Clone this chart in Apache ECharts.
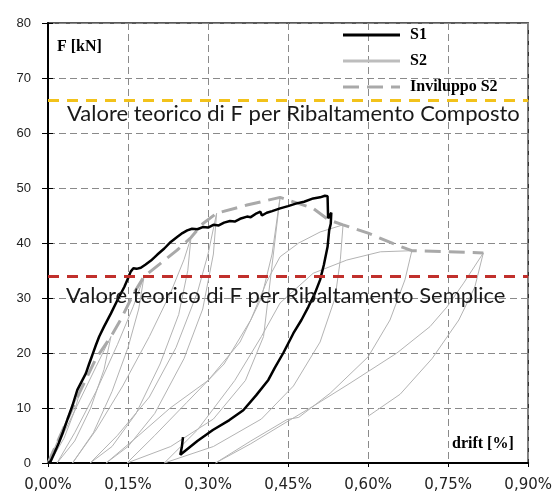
<!DOCTYPE html>
<html>
<head>
<meta charset="utf-8">
<script src="https://cdn.jsdelivr.net/npm/echarts@6/dist/echarts.min.js"></script>
<style>
  html, body { margin: 0; padding: 0; background: #fff; }
  #chart { width: 555px; height: 494px; }
</style>
</head>
<body>
<div id="chart"></div>
<script>
// Axis ticks
const driftTicks = [0, 0.15, 0.30, 0.45, 0.60, 0.75, 0.90];
const forceTicks = [0, 10, 20, 30, 40, 50, 60, 70, 80];

// Theoretical overturning forces [kN]
const fComposto = 66;
const fSemplice = 34;

// Legend entries
const legendNames = ['S1', 'S2', 'Inviluppo S2'];

// S1: monotonic push and unloading (drift %, force kN)
const s1Drift = [0.000, 0.005, 0.012, 0.020, 0.028, 0.036, 0.046, 0.055, 0.063, 0.071, 0.077, 0.083, 0.090, 0.096, 0.105, 0.118, 0.130, 0.143, 0.150, 0.155, 0.160, 0.166, 0.174, 0.183, 0.193, 0.205, 0.218, 0.230, 0.242, 0.252, 0.261, 0.270, 0.280, 0.290, 0.300, 0.310, 0.320, 0.330, 0.341, 0.350, 0.360, 0.373, 0.380, 0.391, 0.398, 0.401, 0.410, 0.420, 0.435, 0.450, 0.466, 0.480, 0.497, 0.510, 0.519, 0.524, 0.525, 0.531, 0.530, 0.527, 0.524, 0.517, 0.510, 0.500, 0.488, 0.475, 0.460, 0.441, 0.425, 0.413, 0.390, 0.366, 0.340, 0.309, 0.280, 0.248, 0.251, 0.253];
const s1Force = [0.0, 0.3, 1.8, 3.6, 5.6, 7.8, 10.5, 13.3, 14.8, 16.3, 18.0, 19.6, 21.5, 23.0, 24.8, 27.2, 29.6, 32.0, 33.6, 34.8, 35.4, 35.3, 35.5, 36.1, 36.8, 37.9, 39.0, 40.2, 41.1, 41.8, 42.3, 42.6, 42.5, 42.9, 42.8, 43.3, 43.2, 43.7, 44.0, 43.9, 44.4, 44.8, 44.7, 45.4, 45.7, 45.0, 45.5, 45.8, 46.3, 46.7, 47.2, 47.5, 48.1, 48.3, 48.6, 48.5, 44.5, 45.5, 43.5, 42.3, 39.3, 36.0, 33.3, 30.8, 28.4, 26.0, 23.6, 20.0, 17.3, 15.1, 12.3, 9.6, 7.8, 6.0, 4.0, 1.5, 3.0, 4.7];

// S2: cyclic test, loading/unloading loops in sequence
const s2Drift = [
  0.000, 0.020, 0.040, 0.060, 0.050, 0.030, 0.003,
  0.030, 0.060, 0.090, 0.118, 0.105, 0.080, 0.050, 0.017,
  0.050, 0.090, 0.130, 0.160, 0.180, 0.170, 0.150, 0.120, 0.085, 0.046,
  0.090, 0.140, 0.190, 0.230, 0.255, 0.268, 0.262, 0.245, 0.210, 0.165, 0.120, 0.079,
  0.130, 0.190, 0.240, 0.280, 0.300, 0.316, 0.310, 0.290, 0.255, 0.200, 0.150, 0.109,
  0.170, 0.229, 0.300, 0.360, 0.400, 0.420, 0.435, 0.420, 0.404, 0.370, 0.310, 0.230, 0.148,
  0.200, 0.260, 0.330, 0.380, 0.410, 0.435, 0.470, 0.510, 0.553, 0.548, 0.538, 0.510, 0.460, 0.400, 0.310, 0.218,
  0.280, 0.350, 0.400, 0.435, 0.497, 0.560, 0.623, 0.682, 0.669, 0.641, 0.600, 0.529, 0.470, 0.448, 0.380, 0.314,
  0.380, 0.448, 0.500, 0.566, 0.654, 0.716, 0.748, 0.779, 0.816, 0.800, 0.770, 0.720, 0.660, 0.600
];
const s2Force = [
  0.0, 4.5, 9.0, 13.0, 9.5, 4.5, 0.0,
  5.5, 11.5, 17.5, 23.0, 17.0, 10.0, 4.0, 0.0,
  5.5, 13.0, 21.5, 28.5, 33.9, 28.0, 21.0, 13.0, 5.5, 0.0,
  6.0, 14.0, 23.0, 31.0, 37.0, 41.0, 35.0, 27.0, 18.0, 9.0, 3.0, 0.0,
  5.0, 12.0, 21.0, 31.0, 38.0, 45.4, 38.0, 28.0, 19.0, 9.0, 3.0, 0.0,
  5.0, 10.0, 15.0, 22.0, 30.0, 38.0, 48.3, 36.0, 23.0, 15.0, 8.0, 3.0, 0.0,
  5.0, 11.0, 18.0, 26.0, 33.0, 37.5, 40.0, 42.0, 43.3, 37.0, 30.0, 22.0, 14.0, 8.0, 3.0, 0.0,
  6.0, 15.0, 23.0, 29.1, 34.5, 36.9, 38.4, 38.6, 33.3, 26.0, 19.3, 12.7, 8.3, 7.9, 4.0, 0.0,
  3.5, 7.5, 10.5, 14.5, 20.0, 24.8, 28.4, 32.7, 38.2, 32.0, 26.0, 19.0, 12.5, 8.5
];

// Envelope of S2 peaks
const envDrift = [0.000, 0.030, 0.060, 0.090, 0.118, 0.136, 0.161, 0.180, 0.211, 0.242, 0.268, 0.290, 0.316, 0.373, 0.435, 0.497, 0.526, 0.553, 0.600, 0.654, 0.682, 0.816];
const envForce = [0.0, 6.5, 13.0, 19.0, 23.0, 26.0, 30.9, 33.9, 36.3, 38.7, 41.0, 43.5, 45.4, 46.9, 48.3, 46.3, 44.2, 43.3, 41.8, 39.6, 38.6, 38.2];

const pairs = (xs, ys) => xs.map((x, i) => [x, ys[i]]);

// Series line styles (also used by the legend keys)
const styleS1 = { stroke: '#000', lineWidth: 2.5 };
const styleS2 = { stroke: '#b3b3b3', lineWidth: 1 };
const styleEnv = { stroke: '#a9a9a9', lineWidth: 3, lineDash: [16, 8] };
const legendKeyStyles = [
  { stroke: '#000', lineWidth: 3 },
  { stroke: '#bdbdbd', lineWidth: 3 },
  { stroke: '#a9a9a9', lineWidth: 3, lineDash: [16, 8] }
];

const chart = echarts.init(document.getElementById('chart'), null, { renderer: 'canvas' });

const gridLine = { show: true, lineStyle: { color: '#8a8a8a', width: 1, type: [7, 4] } };
const serifBold = { fontFamily: 'Liberation Serif', fontWeight: 'bold', fontSize: 16, fill: '#000' };
const noteFont = { fontFamily: 'Lato', fontSize: 22, color: '#1a1a1a' };

// Legend drawn as short line keys with labels, top right inside the plot
const legendGraphics = [];
legendNames.forEach((name, i) => {
  const y = [35, 61, 87][i];
  legendGraphics.push({
    type: 'line', z: 10,
    shape: { x1: 343, y1: y, x2: 400, y2: y },
    style: legendKeyStyles[i]
  });
  legendGraphics.push({
    type: 'text', z: 10, x: 410, y: y,
    style: Object.assign({ text: name, verticalAlign: 'middle' }, serifBold)
  });
});

chart.setOption({
  animation: false,
  backgroundColor: '#fff',
  grid: { left: 48, right: 26, top: 23, bottom: 31, show: true, borderColor: '#222', borderWidth: 1.5 },
  xAxis: {
    type: 'value', min: driftTicks[0], max: driftTicks[driftTicks.length - 1], interval: 0.15,
    axisLine: { show: true, onZero: false, lineStyle: { color: '#000', width: 2 } },
    axisTick: { show: true, length: 4, lineStyle: { color: '#000' } },
    axisLabel: {
      margin: 15, fontFamily: 'DejaVu Sans', fontSize: 15, color: '#222',
      formatter: v => v.toFixed(2).replace('.', ',') + '%'
    },
    splitLine: gridLine
  },
  yAxis: [{
    type: 'value', min: forceTicks[0], max: forceTicks[forceTicks.length - 1], interval: 10,
    axisLine: { show: true, lineStyle: { color: '#000', width: 2 } },
    axisTick: { show: true, length: 6, lineStyle: { color: '#000' } },
    axisLabel: { margin: 17, fontFamily: 'Liberation Sans', fontSize: 13, color: '#222' },
    splitLine: gridLine
  }, {
    type: 'value', min: forceTicks[0], max: forceTicks[forceTicks.length - 1], interval: 10,
    position: 'left',
    axisLine: { show: false },
    axisTick: { show: true, inside: true, length: 5, lineStyle: { color: '#000' } },
    axisLabel: { show: false },
    splitLine: { show: false }
  }],
  graphic: legendGraphics.concat([
    { type: 'text', left: 57, top: 39, style: Object.assign({ text: 'F [kN]' }, serifBold) },
    { type: 'text', left: 452, top: 436, style: Object.assign({ text: 'drift [%]' }, serifBold) }
  ]),
  series: [
    {
      name: 'S2', type: 'line', data: pairs(s2Drift, s2Force), showSymbol: false, symbol: 'none',
      lineStyle: { color: styleS2.stroke, width: styleS2.lineWidth }, z: 2
    },
    {
      name: 'Inviluppo S2', type: 'line', data: pairs(envDrift, envForce), showSymbol: false, symbol: 'none',
      lineStyle: { color: styleEnv.stroke, width: styleEnv.lineWidth, type: styleEnv.lineDash }, z: 3
    },
    {
      name: 'S1', type: 'line', data: pairs(s1Drift, s1Force), showSymbol: false, symbol: 'none',
      lineStyle: { color: styleS1.stroke, width: styleS1.lineWidth }, z: 4,
      markLine: {
        silent: true, symbol: 'none',
        data: [
          {
            yAxis: fComposto,
            lineStyle: { color: '#f2c21b', width: 3, type: [11, 8] },
            label: { show: true, position: 'insideStartBottom', distance: [19, 3], formatter: 'Valore teorico di F per Ribaltamento Composto', ...noteFont }
          },
          {
            yAxis: fSemplice,
            lineStyle: { color: '#c1302c', width: 3, type: [11, 8] },
            label: { show: true, position: 'insideStartBottom', distance: [18, 9], formatter: 'Valore teorico di F per Ribaltamento Semplice', ...noteFont }
          }
        ]
      }
    }
  ]
});
</script>
</body>
</html>
